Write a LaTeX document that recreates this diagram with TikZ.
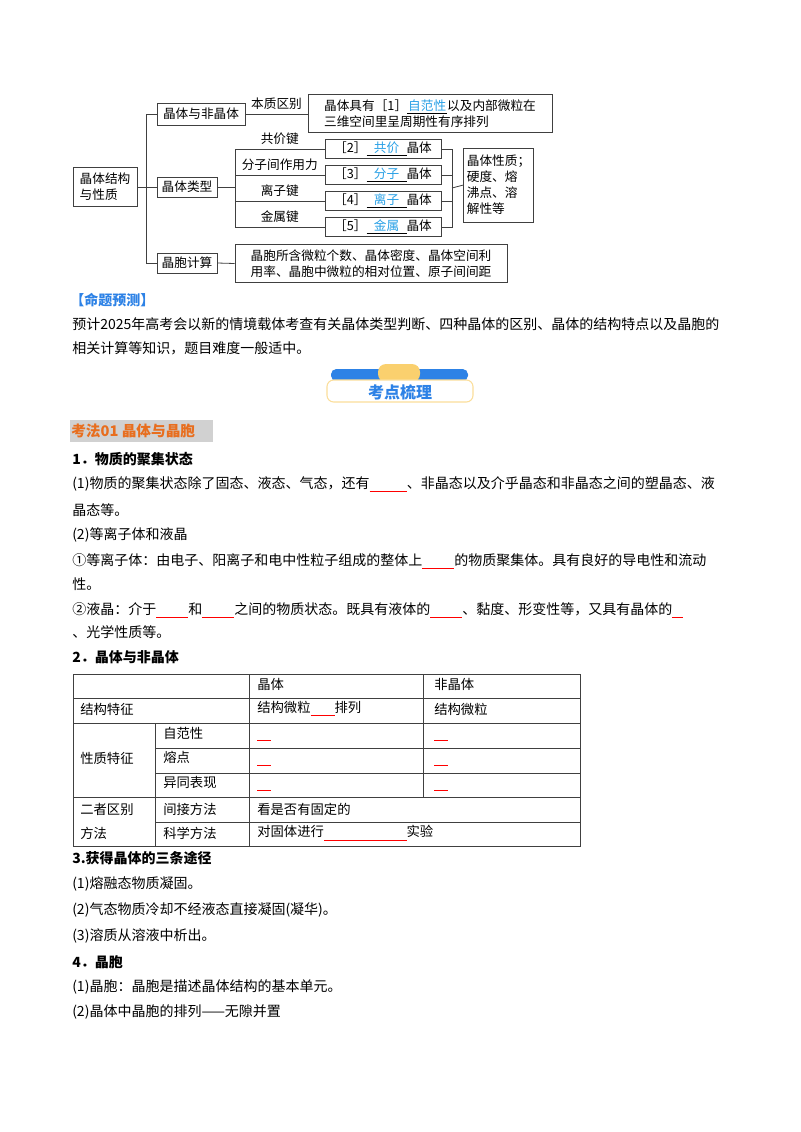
\documentclass[tikz,border=0pt]{standalone}
\usepackage{fontspec}
\setmainfont{Noto Sans CJK SC}
\usepackage{xcolor}
\usetikzlibrary{positioning, calc}
\definecolor{ansblue}{RGB}{40,160,230}
\definecolor{bannerblue}{RGB}{45,130,230}
\definecolor{banneryellow}{RGB}{250,208,110}
\definecolor{headorange}{RGB}{232,110,30}
\tikzstyle{box} = [rectangle, draw=black!75, line width=0.6pt, inner sep=1.5pt, font=\fontsize{9.5}{12}\selectfont]
\tikzstyle{line} = [draw=black!75, line width=0.6pt]
\tikzstyle{txt} = [anchor=west, inner sep=0pt, font=\fontsize{10.5}{12}\selectfont]
\tikzstyle{cell} = [anchor=west, inner sep=0pt, font=\fontsize{10}{12}\selectfont]
\newcommand{\blank}[1]{\textcolor{red}{\rule[-2.5pt]{#1pt}{0.6pt}}}
\newcommand{\ans}[1]{\underline{\makebox[30pt]{\textcolor{ansblue}{#1}}}}

\begin{document}
\begin{tikzpicture}[x=0.75pt, y=-0.75pt]
    \path[use as bounding box, fill=white] (0,0) rectangle (800,1132);

    % Knowledge map
    \node[box, minimum width=48pt, minimum height=29pt, align=left] (root) at (105,187) {晶体结构\\与性质};
    \node[box, minimum width=66pt, minimum height=16.5pt] (noncrys) at (201,114) {晶体与非晶体};
    \node[box, minimum width=45pt, minimum height=15pt] (kinds) at (187,187) {晶体类型};
    \node[box, minimum width=45pt, minimum height=15pt] (cell) at (187,263) {晶胞计算};
    \node[box, minimum width=183pt, minimum height=28pt, align=left] (essence) at (430,113.5) {晶体具有［1］\ans{自范性}以及内部微粒在\\三维空间里呈周期性有序排列};
    \node[box, minimum width=87pt, minimum height=14pt] (covalent) at (383,149) {［2］\ans{共价}晶体};
    \node[box, minimum width=87pt, minimum height=14pt] (molecular) at (383,175) {［3］\ans{分子}晶体};
    \node[box, minimum width=87pt, minimum height=14pt] (ionic) at (383,201) {［4］\ans{离子}晶体};
    \node[box, minimum width=87pt, minimum height=14pt] (metallic) at (383,227) {［5］\ans{金属}晶体};
    \node[box, minimum width=52pt, minimum height=55.5pt, align=left] (props) at (498.5,185) {晶体性质；\\硬度、熔\\沸点、溶\\解性等};
    \node[box, minimum width=204pt, minimum height=28pt, align=left] (calc) at (371,263.5) {晶胞所含微粒个数、晶体密度、晶体空间利\\用率、晶胞中微粒的相对位置、原子间间距};

    \coordinate (trunk) at (146,187);
    \coordinate (split) at (235,187);
    \coordinate (join) at (452,188);

    \draw[line] (root) -- (trunk);
    \draw[line] (trunk) |- (noncrys.west);
    \draw[line] (trunk) -- (kinds.west);
    \draw[line] (trunk) |- (cell.west);
    \draw[line] (noncrys.east) -- node[above, font=\fontsize{9.5}{12}\selectfont] {本质区别} (essence.west |- noncrys.east);
    \draw[line] (kinds.east) -- (split);
    \draw[line] (split) |- node[pos=0.75, above, font=\fontsize{9.5}{12}\selectfont] {共价键} (covalent.west);
    \draw[line] (split) |- node[pos=0.75, above, font=\fontsize{9.5}{12}\selectfont] {分子间作用力} (molecular.west);
    \draw[line] (split) |- node[pos=0.75, above, font=\fontsize{9.5}{12}\selectfont] {离子键} (ionic.west);
    \draw[line] (split) |- node[pos=0.75, above, font=\fontsize{9.5}{12}\selectfont] {金属键} (metallic.west);
    \draw[line] (covalent.east) -| (join);
    \draw[line] (molecular.east) -| (join);
    \draw[line] (ionic.east) -| (join);
    \draw[line] (metallic.east) -| (join);
    \draw[line] (join) -- (props.west);
    \draw[line] (cell.east) -- (calc.west);

    % Forecast
    \node[txt, text=bannerblue, font=\bfseries\fontsize{10.5}{12}\selectfont] (forecast) at (70,300) {【命题预测】};
    \node[txt] (fc1) at (72,324) {预计2025年高考会以新的情境载体考查有关晶体类型判断、四种晶体的区别、晶体的结构特点以及晶胞的};
    \node[txt] (fc2) at (72,348) {相关计算等知识，题目难度一般适中。};

    % Banner
    \fill[bannerblue, rounded corners=4pt] (331,369) rectangle (468,381);
    \fill[banneryellow, rounded corners=6pt] (378,364) rectangle (420,382);
    \draw[banneryellow!70, fill=white, line width=0.8pt, rounded corners=5pt] (327,380) rectangle (473,402);
    \node[text=bannerblue, font=\bfseries\fontsize{12}{14}\selectfont] (banner) at (400,392) {考点梳理};

    % Section
    \fill[black!18] (70,420) rectangle (213,442);
    \node[txt, text=headorange, font=\bfseries\fontsize{11}{13}\selectfont] (sec) at (71,431) {考法01\ 晶体与晶胞};
    \node[txt, font=\bfseries\fontsize{10.5}{12}\selectfont] (h1) at (72,459) {1．物质的聚集状态};
    \node[txt] (l1) at (72,484) {(1)物质的聚集状态除了固态、液态、气态，还有\blank{28}、非晶态以及介乎晶态和非晶态之间的塑晶态、液};
    \node[txt] (l2) at (72,510) {晶态等。};
    \node[txt] (l3) at (72,535) {(2)等离子体和液晶};
    \node[txt] (l4) at (72,561) {①等离子体：由电子、阳离子和电中性粒子组成的整体上\blank{24}的物质聚集体。具有良好的导电性和流动};
    \node[txt] (l5) at (72,584) {性。};
    \node[txt] (l6) at (72,610) {②液晶：介于\blank{24}和\blank{24}之间的物质状态。既具有液体的\blank{24}、黏度、形变性等，又具有晶体的\blank{8}};
    \node[txt] (l7) at (72,632) {、光学性质等。};
    \node[txt, font=\bfseries\fontsize{10.5}{12}\selectfont] (h2) at (72,657) {2．晶体与非晶体};

    % Table
    \draw[line] (73,674) rectangle (580,846);
    \draw[line] (73,698) -- (580,698);
    \draw[line] (73,723) -- (580,723);
    \draw[line] (155,748) -- (580,748);
    \draw[line] (155,773) -- (580,773);
    \draw[line] (73,797) -- (580,797);
    \draw[line] (155,822) -- (580,822);
    \draw[line] (155,723) -- (155,846);
    \draw[line] (249,674) -- (249,846);
    \draw[line] (423,674) -- (423,797);
    \node[cell] at (257,684) {晶体};
    \node[cell] at (434,684) {非晶体};
    \node[cell] at (80,709) {结构特征};
    \node[cell] at (257,709) {结构微粒\blank{18}排列};
    \node[cell] at (434,709) {结构微粒};
    \node[cell] at (80,758) {性质特征};
    \node[cell] at (163,733) {自范性};
    \node[cell] at (163,757) {熔点};
    \node[cell] at (163,782) {异同表现};
    \foreach \y in {740,765,790} {
        \draw[red, line width=0.6pt] (257,\y) -- (271,\y);
        \draw[red, line width=0.6pt] (434,\y) -- (448,\y);
    }
    \node[cell] at (80,809) {二者区别};
    \node[cell] at (80,833) {方法};
    \node[cell] at (163,809) {间接方法};
    \node[cell] at (163,833) {科学方法};
    \node[cell] at (257,809) {看是否有固定的};
    \node[cell] at (257,833) {对固体进行\blank{62}实验};

    % Ways and cells
    \node[txt, font=\bfseries\fontsize{10.5}{12}\selectfont] (h3) at (72,858) {3.获得晶体的三条途径};
    \node[txt] (w1) at (72,884) {(1)熔融态物质凝固。};
    \node[txt] (w2) at (72,910) {(2)气态物质冷却不经液态直接凝固(凝华)。};
    \node[txt] (w3) at (72,936) {(3)溶质从溶液中析出。};
    \node[txt, font=\bfseries\fontsize{10.5}{12}\selectfont] (h4) at (72,962) {4．晶胞};
    \node[txt] (c1) at (72,987) {(1)晶胞：晶胞是描述晶体结构的基本单元。};
    \node[txt] (c2) at (72,1012) {(2)晶体中晶胞的排列——无隙并置};
\end{tikzpicture}
\end{document}
